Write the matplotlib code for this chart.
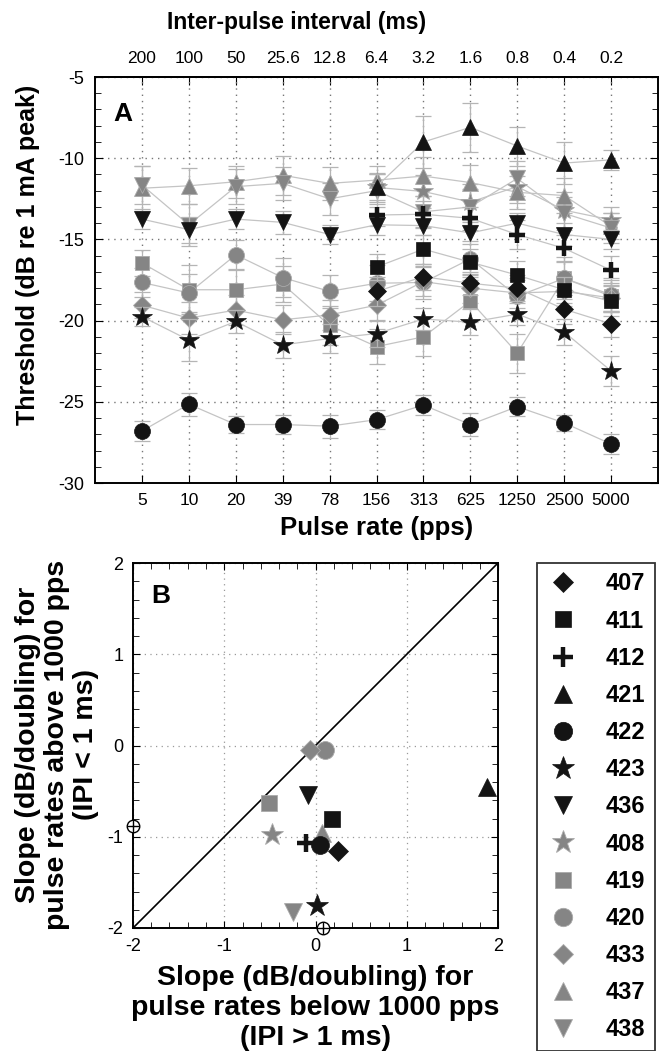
import numpy as np
import matplotlib
matplotlib.use("Agg")
import matplotlib.pyplot as plt
from matplotlib.lines import Line2D
from matplotlib.ticker import MultipleLocator

plt.rcParams['font.family'] = ['Liberation Sans', 'DejaVu Sans']
plt.rcParams['axes.unicode_minus'] = False

nan = np.nan

# ---------- Panel A data ----------
rates = ['5', '10', '20', '39', '78', '156', '313', '625', '1250', '2500', '5000']
ipi = ['200', '100', '50', '25.6', '12.8', '6.4', '3.2', '1.6', '0.8', '0.4', '0.2']

subjects = ['407', '411', '412', '421', '422', '423', '436',
            '408', '419', '420', '433', '437', '438']

thr_407 = [nan, nan, nan, nan, nan, -18.2, -17.3, -17.7, -18.0, -19.3, -20.2]
thr_411 = [nan, nan, nan, nan, nan, -16.7, -15.6, -16.4, -17.2, -18.1, -18.8]
thr_412 = [nan, nan, nan, nan, nan, -13.5, -13.45, -13.7, -14.7, -15.55, -16.9]
thr_421 = [nan, nan, nan, nan, nan, -11.75, -9.0, -8.1, -9.25, -10.3, -10.1]
thr_422 = [-26.8, -25.15, -26.4, -26.4, -26.5, -26.1, -25.2, -26.4, -25.3, -26.3, -27.6]
thr_423 = [-19.75, -21.2, -20.05, -21.5, -21.1, -20.8, -19.9, -20.1, -19.6, -20.7, -23.1]
thr_436 = [-13.75, -14.4, -13.75, -13.95, -14.7, -14.1, -14.15, -14.6, -14.0, -14.7, -15.0]
thr_408 = [nan, nan, nan, nan, nan, -11.8, -12.05, -12.7, -11.75, -13.2, -13.8]
thr_419 = [-16.45, -18.1, -18.1, -17.75, -20.3, -21.6, -21.0, -18.8, -22.0, -17.4, -18.5]
thr_420 = [-17.65, -18.3, -15.95, -17.35, -18.2, -17.7, -17.65, -16.2, -18.5, -17.4, -18.4]
thr_433 = [-19.05, -19.85, -19.35, -19.95, -19.65, -19.05, -17.6, -18.0, -18.3, -18.2, -18.6]
thr_437 = [-11.85, -11.7, -11.45, -11.05, -11.55, -11.35, -11.1, -11.5, -12.1, -12.3, -14.2]
thr_438 = [-11.65, -14.1, -11.75, -11.55, -12.5, -12.0, -13.3, -13.0, -11.25, -13.4, -14.3]

err_407 = [nan, nan, nan, nan, nan, 0.9, 0.8, 0.7, 0.8, 0.9, 0.8]
err_411 = [nan, nan, nan, nan, nan, 0.8, 0.9, 0.8, 0.9, 0.8, 0.9]
err_412 = [nan, nan, nan, nan, nan, 0.7, 0.8, 0.7, 0.9, 0.8, 0.9]
err_421 = [nan, nan, nan, nan, nan, 0.8, 1.6, 1.5, 1.2, 1.3, 0.6]
err_422 = [0.6, 0.7, 0.5, 0.6, 0.7, 0.6, 0.6, 0.7, 0.6, 0.5, 0.6]
err_423 = [0.6, 1.3, 0.7, 0.8, 0.9, 0.8, 0.7, 0.8, 0.7, 0.8, 0.9]
err_436 = [0.6, 0.8, 0.6, 0.7, 0.6, 0.6, 0.6, 0.7, 0.6, 0.7, 0.6]
err_408 = [nan, nan, nan, nan, nan, 0.9, 1.0, 1.1, 1.0, 1.1, 0.8]
err_419 = [0.8, 1.5, 1.2, 1.1, 1.2, 1.1, 1.2, 1.3, 1.2, 1.3, 1.0]
err_420 = [0.9, 1.2, 0.9, 1.2, 1.0, 1.1, 1.0, 1.1, 1.0, 1.0, 1.0]
err_433 = [0.8, 1.0, 0.9, 0.9, 0.9, 0.9, 0.9, 0.9, 0.9, 0.9, 0.9]
err_437 = [1.4, 1.1, 1.0, 1.2, 1.0, 0.9, 1.2, 1.1, 1.0, 1.1, 0.8]
err_438 = [1.2, 1.3, 1.1, 1.0, 1.0, 1.0, 1.0, 1.1, 1.1, 1.0, 0.9]

# ---------- Panel B data ----------
slope_below = [0.25, 0.18, -0.10, 1.88, 0.05, 0.02, -0.08,
               -0.48, -0.51, 0.10, -0.06, 0.07, -0.25]
slope_above = [-1.16, -0.80, -1.07, -0.45, -1.09, -1.76, -0.54,
               -0.98, -0.63, -0.05, -0.05, -0.96, -1.82]
offscale_x = [-2.0, 0.08]
offscale_y = [-0.88, -2.0]

thresholds = [thr_407, thr_411, thr_412, thr_421, thr_422, thr_423, thr_436,
              thr_408, thr_419, thr_420, thr_433, thr_437, thr_438]
errors = [err_407, err_411, err_412, err_421, err_422, err_423, err_436,
          err_408, err_419, err_420, err_433, err_437, err_438]

# ---------- styles ----------
BLACK = '#141414'
GRAY = '#858585'
markers = ['D', 's', '+', '^', 'o', '*', 'v', '*', 's', 'o', 'D', '^', 'v']
colors = [BLACK] * 7 + [GRAY] * 6
msizes = {'D': 9, 's': 10.5, '+': 12, '^': 11, 'o': 11.5, '*': 15, 'v': 11}


def mstyle(m, c, scale=1.0):
    st = dict(marker=m, ms=msizes[m] * scale, mfc=c, linestyle='none')
    if m == '+':
        st.update(mec=c, mew=3.2)
    elif c == GRAY:
        st.update(mec='#aaaaaa', mew=0.6)
    else:
        st.update(mec=c, mew=0.5)
    return st


fig = plt.figure(figsize=(6.67, 10.51), dpi=100)

# ---------- Panel A ----------
axA = fig.add_axes([95 / 667, 1 - 483 / 1051, 563 / 667, 406 / 1051])
x = np.arange(len(rates))
order = list(range(7, 13)) + list(range(0, 7))
for i in order:
    z = 3 if colors[i] == BLACK else 2
    axA.errorbar(x, thresholds[i], yerr=errors[i], fmt='none', ecolor='#b5b5b5',
                 elinewidth=0.9, capsize=5.5, capthick=0.9, zorder=z)
    axA.plot(x, thresholds[i], color='#c4c4c4', lw=0.9, zorder=z)
    axA.plot(x, thresholds[i], zorder=z + 0.1, **mstyle(markers[i], colors[i]))

axA.set_xlim(-1, 11)
axA.set_ylim(-30, -5)
axA.set_xticks(x)
axA.set_xticklabels(rates)
axA.yaxis.set_major_locator(MultipleLocator(5))
axA.yaxis.set_minor_locator(MultipleLocator(1))
axA.tick_params(axis='y', which='both', direction='in', left=True, right=True, labelsize=13, pad=8)
axA.tick_params(axis='y', which='major', length=6)
axA.tick_params(axis='y', which='minor', length=4)
axA.tick_params(axis='x', direction='in', top=False, length=6, labelsize=12.5, pad=7)
axA.grid(True, which='major', linestyle=(0, (1, 3.5)), color='#777777', lw=1)
for s in axA.spines.values():
    s.set_linewidth(1.4)

top = axA.secondary_xaxis('top')
top.set_xticks(x)
top.set_xticklabels(ipi)
top.tick_params(direction='in', length=6, labelsize=12.5, pad=8)
top.spines['top'].set_linewidth(1.4)

axA.text(0.05, 0.91, 'A', transform=axA.transAxes, fontsize=19, fontweight='bold',
         ha='center', va='center')

fig.text(28 / 667, 1 - 255 / 1051, 'Threshold (dB re 1 mA peak)', rotation=90,
         ha='center', va='center', fontsize=18, fontweight='bold')
fig.text(377 / 667, 1 - 528 / 1051, 'Pulse rate (pps)', ha='center', va='center',
         fontsize=18.5, fontweight='bold')
fig.text(297 / 667, 1 - 22 / 1051, 'Inter-pulse interval (ms)', ha='center', va='center',
         fontsize=16.5, fontweight='bold')

# ---------- Panel B ----------
axB = fig.add_axes([133 / 667, 1 - 928 / 1051, 365 / 667, 365 / 1051])
axB.plot([-2, 2], [-2, 2], color='black', lw=1.2, zorder=2)
for i in order:
    z = 4 if colors[i] == BLACK else 3
    axB.plot(slope_below[i], slope_above[i], clip_on=False, zorder=z,
             **mstyle(markers[i], colors[i], 1.12))
axB.plot(offscale_x, offscale_y, linestyle='none', marker='o', ms=9, mfc='white',
         mec='black', mew=1, clip_on=False, zorder=6)
axB.plot(offscale_x, offscale_y, linestyle='none', marker='+', ms=9,
         mec='black', mew=1, clip_on=False, zorder=7)

axB.set_xlim(-2, 2)
axB.set_ylim(-2, 2)
for a in (axB.xaxis, axB.yaxis):
    a.set_major_locator(MultipleLocator(1))
    a.set_minor_locator(MultipleLocator(0.2))
axB.tick_params(which='both', direction='in', top=True, right=True, labelsize=13)
axB.tick_params(which='major', length=5, pad=7)
axB.tick_params(which='minor', length=4)
axB.grid(True, which='major', linestyle=(0, (1, 3.5)), color='#999999', lw=0.9)
for s in axB.spines.values():
    s.set_linewidth(1.4)
axB.text(0.077, 0.91, 'B', transform=axB.transAxes, fontsize=19, fontweight='bold',
         ha='center', va='center')

fig.text(57 / 667, 1 - 745 / 1051,
         'Slope (dB/doubling) for\npulse rates above 1000 pps\n(IPI < 1 ms)',
         rotation=90, ha='center', va='center', multialignment='center',
         fontsize=20.5, fontweight='bold', linespacing=1.15)
fig.text(315 / 667, 1 - 1008 / 1051,
         'Slope (dB/doubling) for\npulse rates below 1000 pps\n(IPI > 1 ms)',
         ha='center', va='center', multialignment='center',
         fontsize=20.5, fontweight='bold', linespacing=1.2)

# ---------- Legend ----------
handles = [Line2D([], [], **mstyle(markers[i], colors[i], 1.15)) for i in range(len(subjects))]
leg = fig.legend(handles, subjects, loc='upper left', bbox_to_anchor=(537 / 667, 1 - 563 / 1051),
                 borderaxespad=0, frameon=True, fancybox=False, edgecolor='black',
                 prop={'size': 17, 'weight': 'bold'}, handlelength=1.4, handletextpad=1.1,
                 labelspacing=0.6, borderpad=0.4)
leg.get_frame().set_linewidth(1.3)

fig.savefig('out.png', dpi=100)
